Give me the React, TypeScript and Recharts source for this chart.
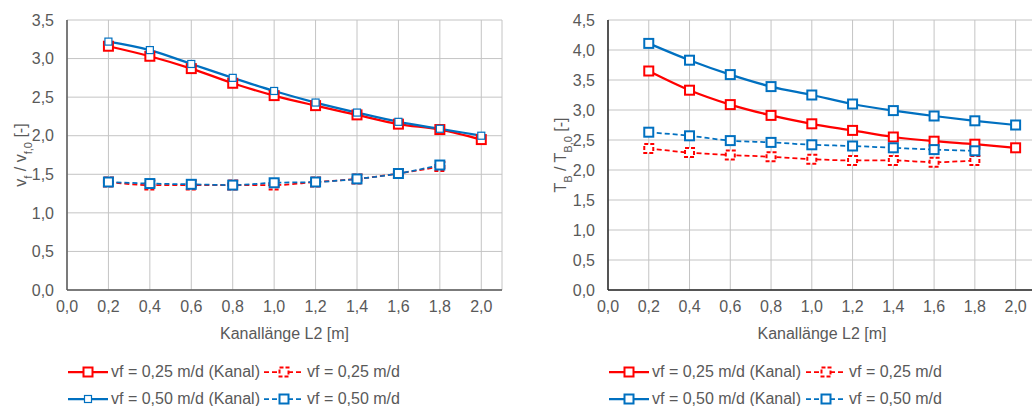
import React from "react";
import { LineChart, Line, XAxis, YAxis, CartesianGrid } from "recharts";

// Kanallänge L2 [m]
const lengths = [0.2, 0.4, 0.6, 0.8, 1.0, 1.2, 1.4, 1.6, 1.8, 2.0];
const xTicks = [0, 0.2, 0.4, 0.6, 0.8, 1.0, 1.2, 1.4, 1.6, 1.8, 2.0];
const velTicks = [0, 0.5, 1.0, 1.5, 2.0, 2.5, 3.0, 3.5];
const timeTicks = [0, 0.5, 1.0, 1.5, 2.0, 2.5, 3.0, 3.5, 4.0, 4.5];

const seriesNames = [
  "vf = 0,25 m/d (Kanal)",
  "vf = 0,25 m/d",
  "vf = 0,50 m/d (Kanal)",
  "vf = 0,50 m/d",
];

// left: vf / vf,0
const velKanal025 = [3.16, 3.03, 2.87, 2.68, 2.52, 2.39, 2.27, 2.15, 2.08, 1.95];
const vel025 = [1.4, 1.36, 1.36, 1.36, 1.36, 1.4, 1.44, 1.51, 1.6];
const velKanal050 = [3.22, 3.11, 2.93, 2.75, 2.58, 2.43, 2.3, 2.18, 2.09, 2.0];
const vel050 = [1.4, 1.38, 1.37, 1.36, 1.39, 1.4, 1.44, 1.51, 1.62];

// right: TB / TB,0
const timeKanal025 = [3.65, 3.33, 3.09, 2.91, 2.77, 2.66, 2.55, 2.48, 2.43, 2.37];
const time025 = [2.36, 2.29, 2.25, 2.22, 2.18, 2.16, 2.16, 2.13, 2.16];
const timeKanal050 = [4.11, 3.83, 3.59, 3.39, 3.25, 3.1, 2.99, 2.9, 2.82, 2.75];
const time050 = [2.63, 2.57, 2.49, 2.46, 2.42, 2.4, 2.37, 2.34, 2.32];

const RED = "#ff0000";
const BLUE = "#0070c0";
const TEXT = "#595959";
const FONT = '"Liberation Sans", Arial, sans-serif';
const FS = 16;

type Style = { color: string; dash?: string; width: number; size: number; sw: number; markDash?: string };

const leftStyles: Style[] = [
  { color: RED, width: 2.25, size: 9, sw: 2 },
  { color: RED, dash: "5 3", width: 1.75, size: 9, sw: 2, markDash: "4 2" },
  { color: BLUE, width: 2.25, size: 7, sw: 1.2 },
  { color: BLUE, dash: "5 3", width: 1.75, size: 9, sw: 2 },
];
const rightStyles: Style[] = [
  { color: RED, width: 2.25, size: 9, sw: 2 },
  { color: RED, dash: "5 3", width: 1.75, size: 9, sw: 2, markDash: "4 2" },
  { color: BLUE, width: 2.25, size: 9, sw: 2 },
  { color: BLUE, dash: "5 3", width: 1.75, size: 9, sw: 2 },
];

const buildRows = (series: number[][]) =>
  lengths.map((x, i) => {
    const row: Record<string, number | null> = { x };
    series.forEach((s, k) => {
      row["s" + k] = s[i] ?? null;
    });
    return row;
  });

const leftRows = buildRows([velKanal025, vel025, velKanal050, vel050]);
const rightRows = buildRows([timeKanal025, time025, timeKanal050, time050]);

const fmt = (v: number) => v.toFixed(1).replace(".", ",");

const squareDot = (st: Style) => (props: any) => {
  const { cx, cy, index, value } = props;
  if (cx == null || cy == null || value == null) return <g key={"e" + index} />;
  return (
    <rect
      key={"d" + index}
      x={cx - st.size / 2}
      y={cy - st.size / 2}
      width={st.size}
      height={st.size}
      fill="#fff"
      stroke={st.color}
      strokeWidth={st.sw}
      strokeDasharray={st.markDash}
    />
  );
};

const Sub = ({ children }: { children: React.ReactNode }) => (
  <tspan baselineShift="sub" fontSize={11}>
    {children}
  </tspan>
);

const yLabel = (kind: "v" | "T", x: number) => () => {
  const cy = 155;
  return (
    <text
      x={x}
      y={cy}
      transform={`rotate(-90 ${x} ${cy})`}
      textAnchor="middle"
      fill={TEXT}
      fontSize={FS}
      fontFamily={FONT}
    >
      {kind === "v" ? (
        <>
          <tspan>v</tspan>
          <Sub>f</Sub>
          <tspan> / v</tspan>
          <Sub>f,0</Sub>
          <tspan> [-]</tspan>
        </>
      ) : (
        <>
          <tspan>T</tspan>
          <Sub>B</Sub>
          <tspan> / T</tspan>
          <Sub>B,0</Sub>
          <tspan> [-]</tspan>
        </>
      )}
    </text>
  );
};

const xLabel = (props: any) => {
  const vb = props.viewBox || { x: 0, y: 290, width: 0 };
  return (
    <text
      x={vb.x + vb.width / 2}
      y={290 + 49}
      textAnchor="middle"
      fill={TEXT}
      fontSize={FS}
      fontFamily={FONT}
    >
      Kanallänge L2 [m]
    </text>
  );
};

function Panel({
  rows,
  styles,
  ticks,
  yMax,
  left,
  width,
  yAxisWidth,
  marginRight,
  axisColor,
  kind,
  labelX,
}: {
  rows: Record<string, number | null>[];
  styles: Style[];
  ticks: number[];
  yMax: number;
  left: number;
  width: number;
  yAxisWidth: number;
  marginRight: number;
  axisColor: string;
  kind: "v" | "T";
  labelX: number;
}) {
  const tickStyle = { fill: TEXT, fontSize: FS, fontFamily: FONT };
  return (
    <div style={{ position: "absolute", left, top: 0 }}>
      <LineChart
        width={width}
        height={406}
        data={rows}
        margin={{ top: 20, right: marginRight, left: 0, bottom: 66 }}
      >
        <CartesianGrid stroke="#c4c4c4" strokeWidth={1} />
        <XAxis
          dataKey="x"
          type="number"
          domain={[0, 2.1]}
          ticks={xTicks}
          tickFormatter={fmt}
          tick={tickStyle}
          tickLine={false}
          tickSize={6}
          tickMargin={5}
          axisLine={{ stroke: axisColor, strokeWidth: 1.5 }}
          height={50}
          label={{ content: xLabel }}
        />
        <YAxis
          type="number"
          domain={[0, yMax]}
          ticks={ticks}
          tickFormatter={fmt}
          tick={tickStyle}
          tickLine={false}
          tickSize={6}
          tickMargin={7}
          axisLine={{ stroke: axisColor, strokeWidth: 1.5 }}
          width={yAxisWidth}
          label={{ content: yLabel(kind, labelX) }}
        />
        {styles.map((st, k) => (
          <Line
            key={k}
            type="monotone"
            dataKey={"s" + k}
            name={seriesNames[k]}
            stroke={st.color}
            strokeWidth={st.width}
            strokeDasharray={st.dash}
            dot={squareDot(st)}
            activeDot={false}
            connectNulls={false}
            isAnimationActive={false}
          />
        ))}
      </LineChart>
    </div>
  );
}

function LegendIcon({ st }: { st: Style }) {
  return (
    <svg width={40} height={12} style={{ display: "block", flex: "none" }}>
      <line x1={0} y1={6} x2={40} y2={6} stroke={st.color} strokeWidth={st.width} strokeDasharray={st.dash} />
      <rect
        x={20 - st.size / 2}
        y={6 - st.size / 2}
        width={st.size}
        height={st.size}
        fill="#fff"
        stroke={st.color}
        strokeWidth={st.sw}
        strokeDasharray={st.markDash}
      />
    </svg>
  );
}

function Legend({ styles, left, colWidth }: { styles: Style[]; left: number; colWidth: number }) {
  return (
    <div style={{ position: "absolute", left, top: 363, fontFamily: FONT, fontSize: FS, color: TEXT }}>
      {[0, 1].map((r) => (
        <div key={r} style={{ display: "flex", height: 27, alignItems: "flex-start" }}>
          {[0, 1].map((c) => {
            const k = r * 2 + c;
            return (
              <div key={c} style={{ display: "flex", alignItems: "center", width: colWidth, height: 18 }}>
                <LegendIcon st={styles[k]} />
                <span style={{ marginLeft: 3, whiteSpace: "nowrap" }}>{seriesNames[k]}</span>
              </div>
            );
          })}
        </div>
      ))}
    </div>
  );
}

export default function App() {
  return (
    <div
      style={{
        position: "absolute",
        left: 0,
        top: 0,
        width: 1032,
        height: 406,
        overflow: "hidden",
        background: "#fff",
      }}
    >
      <Panel
        rows={leftRows}
        styles={leftStyles}
        ticks={velTicks}
        yMax={3.5}
        left={0}
        width={520}
        yAxisWidth={67}
        marginRight={18}
        axisColor="#595959"
        kind="v"
        labelX={26}
      />
      <Panel
        rows={rightRows}
        styles={rightStyles}
        ticks={timeTicks}
        yMax={4.5}
        left={520}
        width={530}
        yAxisWidth={88}
        marginRight={14}
        axisColor="#262626"
        kind="T"
        labelX={46}
      />
      <Legend styles={leftStyles} left={68} colWidth={196} />
      <Legend styles={rightStyles} left={609} colWidth={197} />
    </div>
  );
}
